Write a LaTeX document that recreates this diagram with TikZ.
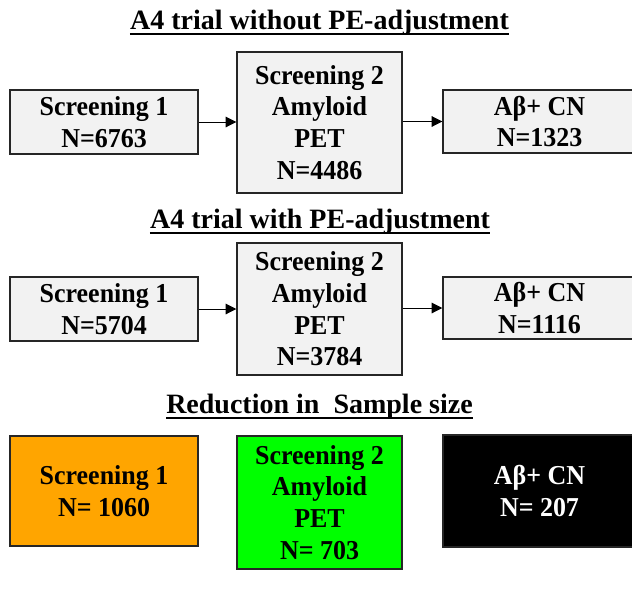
\documentclass[tikz,border=0pt]{standalone}
\usepackage{fontspec}
\setmainfont{Liberation Serif}
\newfontfamily\boxfont[FakeStretch=0.95]{Liberation Serif}
\usetikzlibrary{arrows.meta}
\definecolor{boxgrey}{HTML}{F2F2F2}
\definecolor{boxorange}{HTML}{FFA500}
\definecolor{boxgreen}{HTML}{00FF00}
\begin{document}
\begin{tikzpicture}[x=0.75pt,y=-0.75pt,
  box/.style={draw=black!85,line width=1.1pt,rectangle,inner sep=0pt,align=center,
    font=\boxfont\bfseries\fontsize{20.5}{23.8}\selectfont},
  greybox/.style={box,fill=boxgrey},
  ttl/.style={inner sep=0pt,anchor=base,font=\bfseries\fontsize{21}{25}\selectfont},
  uline/.style={line width=1.5pt},
  conn/.style={line width=0.75pt,-{Triangle[length=8pt,width=8pt]}}
]
\useasboundingbox (0,0) rectangle (632,604);
% Row 1
\node[ttl] (t1) at (319.5,29.5) {A4 trial without PE-adjustment};
\draw[uline] ([yshift=-3.2pt]t1.base west) -- ([yshift=-3.2pt]t1.base east);
\node[greybox,minimum width=141pt,minimum height=48pt] (s1a) at (104,122) {Screening 1\\N=6763};
\node[greybox,minimum width=123.75pt,minimum height=105.75pt] (s2a) at (319.5,122.5) {Screening 2\\Amyloid\\PET\\N=4486};
\node[greybox,minimum width=144.75pt,minimum height=47.25pt] (cna) at (539.5,121.5) {Aβ+ CN\\N=1323};
\draw[conn] (s1a.east) -- (s2a.west |- s1a.east);
\draw[conn] (s2a.east |- cna.west) -- (cna.west);
% Row 2
\node[ttl] (t2) at (320,228.5) {A4 trial with PE-adjustment};
\draw[uline] ([yshift=-3.2pt]t2.base west) -- ([yshift=-3.2pt]t2.base east);
\node[greybox,minimum width=141pt,minimum height=48pt] (s1b) at (104,309) {Screening 1\\N=5704};
\node[greybox,minimum width=123.75pt,minimum height=99pt] (s2b) at (319.5,309) {Screening 2\\Amyloid\\PET\\N=3784};
\node[greybox,minimum width=144.75pt,minimum height=46.5pt] (cnb) at (539.5,308) {Aβ+ CN\\N=1116};
\draw[conn] (s1b.east) -- (s2b.west |- s1b.east);
\draw[conn] (s2b.east |- cnb.west) -- (cnb.west);
% Row 3
\node[ttl] (t3) at (319.5,413) {Reduction in\ \ Sample size};
\draw[line width=1.8pt] ([yshift=-3.8pt]t3.base west) -- ([yshift=-3.8pt]t3.base east);
\node[box,fill=boxorange,minimum width=141pt,minimum height=82.5pt] (s1c) at (104,491) {Screening 1\\N= 1060};
\node[box,fill=boxgreen,minimum width=123.75pt,minimum height=99.75pt] (s2c) at (319.5,502.5) {Screening 2\\Amyloid\\PET\\N= 703};
\node[box,fill=black,text=white,minimum width=144.75pt,minimum height=84pt] (cnc) at (539.5,491) {Aβ+ CN\\N= 207};
\end{tikzpicture}
\end{document}
